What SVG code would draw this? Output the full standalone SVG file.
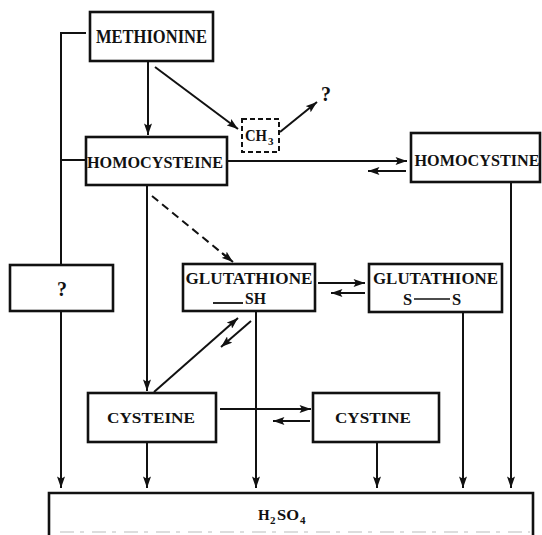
<svg xmlns="http://www.w3.org/2000/svg" width="542" height="535" viewBox="0 0 542 535">
  <defs>
    <marker id="ah" viewBox="0 0 10 7" refX="10" refY="3.5" markerWidth="12" markerHeight="8" markerUnits="userSpaceOnUse" orient="auto">
      <path d="M0,0 L10,3.5 L0,7 L2,3.5 z" fill="#111"/>
    </marker>
    <style>
      .box { fill: #fff; stroke: #111; stroke-width: 2.6; }
      .dbox { fill: #fff; stroke: #111; stroke-width: 2; stroke-dasharray: 5 3; }
      .ln { fill: none; stroke: #111; stroke-width: 2; }
      .arr { fill: none; stroke: #111; stroke-width: 2; marker-end: url(#ah); }
      .dash { fill: none; stroke: #111; stroke-width: 2; stroke-dasharray: 8 5; }
      .t { font-family: "Liberation Serif", "DejaVu Serif", serif; font-weight: bold; fill: #111; }
    </style>
  </defs>

  <rect width="542" height="535" fill="#fff"/>

  <!-- connectors -->
  <g id="connectors">
    <!-- left bypass line -->
    <polyline class="ln" points="86,33 61,33 61,480"/>
    <line class="arr" x1="61" y1="470" x2="61" y2="488"/>
    <line class="ln" x1="61" y1="160" x2="86" y2="160"/>

    <!-- methionine -> homocysteine, methyl group -->
    <line class="arr" x1="148" y1="62" x2="148" y2="135"/>
    <line class="arr" x1="155" y1="67" x2="238" y2="129"/>
    <line class="arr" x1="280" y1="132" x2="317" y2="102"/>

    <!-- homocysteine <-> homocystine -->
    <line class="arr" x1="227" y1="161" x2="407" y2="161"/>
    <line class="arr" x1="406" y1="171" x2="368" y2="171"/>

    <!-- homocysteine -> glutathione (dashed) -->
    <line class="dash" x1="152" y1="196" x2="228" y2="258"/>
    <line class="arr" x1="222" y1="253" x2="233" y2="262"/>

    <!-- homocysteine -> cysteine -->
    <line class="arr" x1="147" y1="186" x2="147" y2="391"/>

    <!-- cysteine <-> glutathione SH -->
    <line class="arr" x1="154" y1="392" x2="238" y2="318"/>
    <line class="arr" x1="251" y1="321" x2="221" y2="347"/>

    <!-- glutathione SH <-> S-S -->
    <line class="arr" x1="318" y1="283" x2="365" y2="283"/>
    <line class="arr" x1="365" y1="293" x2="331" y2="293"/>

    <!-- cysteine <-> cystine -->
    <line class="arr" x1="220" y1="409" x2="311" y2="409"/>
    <line class="arr" x1="310" y1="421" x2="273" y2="421"/>

    <!-- drains to sulfate -->
    <line class="arr" x1="147" y1="442" x2="147" y2="488"/>
    <line class="arr" x1="256" y1="311" x2="256" y2="488"/>
    <line class="arr" x1="377" y1="442" x2="377" y2="488"/>
    <line class="arr" x1="463" y1="312" x2="463" y2="488"/>
    <line class="arr" x1="511" y1="182" x2="511" y2="488"/>
  </g>

  <g id="methionine">
    <rect class="box" x="90" y="12" width="123" height="49"/>
    <text class="t" x="151.5" y="43" font-size="18" text-anchor="middle" textLength="111" lengthAdjust="spacingAndGlyphs">METHIONINE</text>
  </g>

  <g id="homocysteine">
    <rect class="box" x="86" y="137" width="141" height="48"/>
    <text class="t" x="155" y="167.5" font-size="16.5" text-anchor="middle" textLength="136" lengthAdjust="spacingAndGlyphs">HOMOCYSTEINE</text>
  </g>

  <g id="ch3">
    <rect class="dbox" x="242" y="119" width="37" height="33"/>
    <text class="t" x="245" y="141" font-size="16" textLength="22" lengthAdjust="spacingAndGlyphs">CH</text>
    <text class="t" x="268" y="145" font-size="11">3</text>
  </g>

  <g id="unknown-top">
    <text class="t" x="326" y="101" font-size="20" text-anchor="middle">?</text>
  </g>

  <g id="homocystine">
    <rect class="box" x="411" y="133" width="129" height="49"/>
    <text class="t" x="477" y="165.5" font-size="16.5" text-anchor="middle" textLength="125" lengthAdjust="spacingAndGlyphs">HOMOCYSTINE</text>
  </g>

  <g id="unknown-left">
    <rect class="box" x="10" y="265" width="103" height="46"/>
    <text class="t" x="62" y="296" font-size="20" text-anchor="middle">?</text>
  </g>

  <g id="glutathione-sh">
    <rect class="box" x="183" y="264" width="132" height="47"/>
    <text class="t" x="249" y="283.5" font-size="16.5" text-anchor="middle" textLength="127" lengthAdjust="spacingAndGlyphs">GLUTATHIONE</text>
    <line x1="213" y1="303" x2="243" y2="303" stroke="#111" stroke-width="1.8"/>
    <text class="t" x="245" y="304" font-size="16.5" textLength="21" lengthAdjust="spacingAndGlyphs">SH</text>
  </g>

  <g id="glutathione-ss">
    <rect class="box" x="369" y="264" width="133" height="48"/>
    <text class="t" x="435.5" y="283.5" font-size="16.5" text-anchor="middle" textLength="125" lengthAdjust="spacingAndGlyphs">GLUTATHIONE</text>
    <text class="t" x="403" y="305" font-size="16.5">S</text>
    <line x1="414" y1="299" x2="450" y2="299" stroke="#111" stroke-width="1.6"/>
    <text class="t" x="452" y="305" font-size="16.5">S</text>
  </g>

  <g id="cysteine">
    <rect class="box" x="88" y="393" width="128" height="49"/>
    <text class="t" x="151" y="423" font-size="15.5" text-anchor="middle" textLength="88" lengthAdjust="spacingAndGlyphs">CYSTEINE</text>
  </g>

  <g id="cystine">
    <rect class="box" x="313" y="393" width="126" height="49"/>
    <text class="t" x="373" y="423" font-size="15.5" text-anchor="middle" textLength="76" lengthAdjust="spacingAndGlyphs">CYSTINE</text>
  </g>

  <g id="sulfate">
    <path d="M49,540 V493 H533 V540" fill="#fff" stroke="#111" stroke-width="2.6"/>
    <line x1="60" y1="532" x2="530" y2="532" stroke="#bbb" stroke-width="1" stroke-dasharray="14 6 4 8"/>
    <text class="t" x="258" y="520" font-size="15">H</text>
    <text class="t" x="270" y="524" font-size="11">2</text>
    <text class="t" x="277" y="520" font-size="15" textLength="22" lengthAdjust="spacingAndGlyphs">SO</text>
    <text class="t" x="300" y="524" font-size="11">4</text>
  </g>
</svg>
